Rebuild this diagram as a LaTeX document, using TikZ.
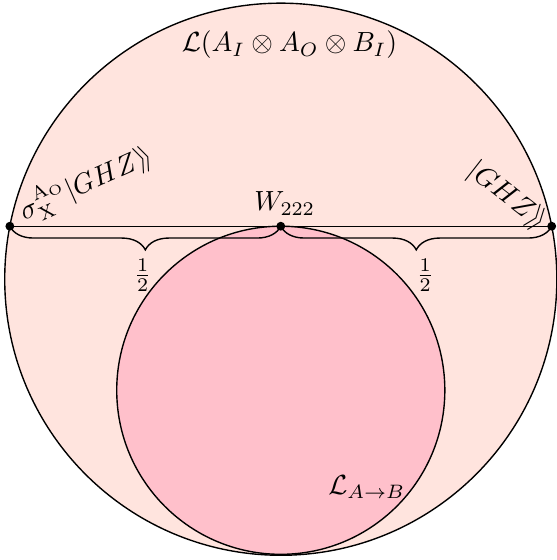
\documentclass[tikz,border=0pt]{standalone}
\usetikzlibrary{decorations.pathreplacing}
\definecolor{outerfill}{RGB}{255,228,222}
\definecolor{innerfill}{RGB}{255,192,203}
\begin{document}
\begin{tikzpicture}[x=1cm,y=1cm,
  region/.style={draw=black, line width=0.5pt},
  dotmark/.style={circle, fill=black, inner sep=0pt, minimum size=3.2pt},
  bracemark/.style={decorate, decoration={brace, mirror, amplitude=0.3cm}, line width=0.5pt},
  lbl/.style={inner sep=0pt}]
\useasboundingbox (-3.56,-3.56) rectangle (3.50,3.54);
\node[region, circle, fill=outerfill, minimum size=7cm, inner sep=0pt] (outer) at (0,0) {};
\node[region, circle, fill=innerfill, minimum size=4.16cm, inner sep=0pt] (inner) at (0,-1.408) {};
\coordinate (L) at (-3.435,0.672);
\coordinate (M) at (0,0.672);
\coordinate (R) at (3.435,0.672);
\draw[line width=0.5pt] (L) -- (R);
\draw[bracemark] (L) -- (M);
\draw[bracemark] (M) -- (R);
\node[dotmark] (dL) at (L) {};
\node[dotmark] (dM) at (M) {};
\node[dotmark] (dR) at (R) {};
\node[lbl] (title) at (0.11,2.97) {$\mathcal{L}(A_I\otimes A_O\otimes B_I)$};
\node[lbl] (w) at (0.05,0.96) {$W_{222}$};
\node[lbl] (h1) at (-1.75,0.05) {$\frac{1}{2}$};
\node[lbl] (h2) at (1.83,0.05) {$\frac{1}{2}$};
\node[lbl] (lab) at (1.09,-2.64) {$\mathcal{L}_{A\to B}$};
\node[lbl, rotate=24] (sx) at (-2.47,1.22) {$\sigma_{\mathrm{X}}^{\mathrm{A_O}}|GHZ\rangle\!\rangle$};
\node[lbl, rotate=-38] (ghz) at (2.87,1.05) {$|GHZ\rangle\!\rangle$};
\end{tikzpicture}
\end{document}
